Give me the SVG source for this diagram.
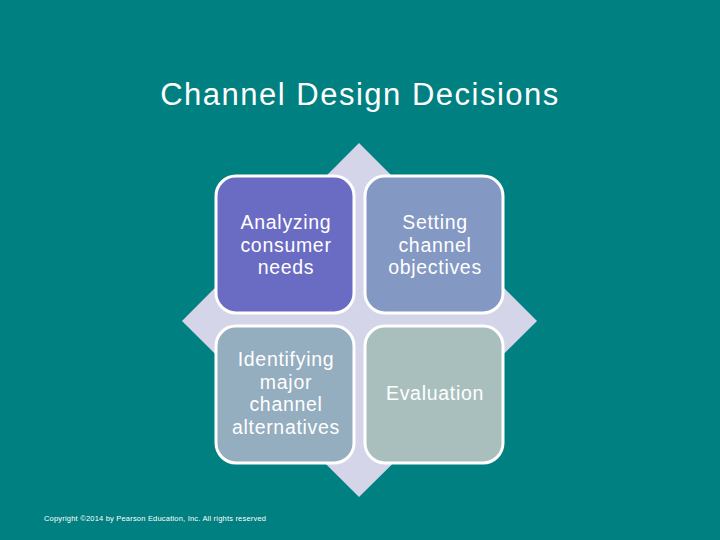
<svg xmlns="http://www.w3.org/2000/svg" width="720" height="540" viewBox="0 0 720 540">
<style>
.box{stroke:#ffffff;stroke-width:3}
.lbl{font-family:"Liberation Sans",Arial,sans-serif;font-size:19.5px;letter-spacing:0.7px;fill:#ffffff;text-anchor:middle}
</style>
<rect width="720" height="540" fill="#008080"/>
<text x="360" y="105" font-family="Liberation Sans,Arial,sans-serif" font-size="31" letter-spacing="1.5" fill="#ffffff" text-anchor="middle">Channel Design Decisions</text>
<g id="diamond"><polygon points="359,143 537,321 359,497 182,321" fill="#D5D5E9"/></g>
<g id="connectors"></g>
<g id="n1"><rect class="box" x="216" y="176" width="138" height="137" rx="20" fill="#6A6BC3"/>
<text class="lbl" x="286" y="229">Analyzing</text><text class="lbl" x="286" y="252">consumer</text><text class="lbl" x="286" y="274">needs</text></g>
<g id="n2"><rect class="box" x="365" y="176" width="138" height="137" rx="20" fill="#8498C4"/>
<text class="lbl" x="435" y="229">Setting</text><text class="lbl" x="435" y="252">channel</text><text class="lbl" x="435" y="274">objectives</text></g>
<g id="n3"><rect class="box" x="216" y="326" width="138" height="137" rx="20" fill="#94ADBF"/>
<text class="lbl" x="286" y="366">Identifying</text><text class="lbl" x="286" y="389">major</text><text class="lbl" x="286" y="411">channel</text><text class="lbl" x="286" y="434">alternatives</text></g>
<g id="n4"><rect class="box" x="365" y="326" width="138" height="137" rx="20" fill="#A9BFBE"/>
<text class="lbl" x="435" y="400">Evaluation</text></g>
<text x="44" y="521" font-family="Liberation Sans,Arial,sans-serif" font-size="7.5" fill="#ffffff" letter-spacing="0.2">Copyright ©2014 by Pearson Education, Inc. All rights reserved</text>
</svg>
